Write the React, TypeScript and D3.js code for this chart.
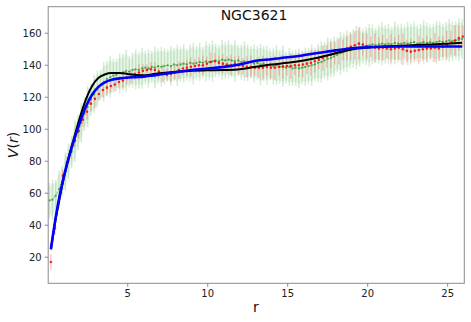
import React from 'react'
import * as d3 from 'd3'

// Courbe de rotation NGC3621 : données observées (rouge), modèle (vert + bande),
// deux ajustements (bleu, noir).

const W = 471
const H = 322

// grille en r des points verts (pas 0.2) et rouges (pas 0.25)
const greenR = d3.range(0.1, 26, 0.2)
const greenV = [
  55.5, 56, 58.5, 62.5, 67.5, 73.5, 80, 86, 92.5, 98,
  104, 109.5, 114, 118.5, 122, 125, 127.5, 129.5, 131.5, 132.5,
  133.5, 134, 135, 135.5, 136.5, 136, 137, 137.5, 137, 138,
  138.5, 138, 139, 138.5, 139.5, 139, 139.5, 140, 139.5, 140.5,
  140, 140.5, 141, 140.5, 141.5, 141, 141.5, 142, 141.5, 142.5,
  142, 142.5, 143, 142.5, 143.5, 143, 143.5, 143, 142.5, 143,
  142, 142.5, 141.5, 142, 141, 141.5, 140.5, 141, 140, 140.5,
  139.5, 140, 139, 139.5, 138.5, 139, 138, 138.5, 138, 138.5,
  139, 139.5, 140, 140.5, 141.5, 142, 143, 144, 144.5, 145.5,
  146.5, 147.5, 148, 149, 149.5, 150.5, 151, 151.5, 152, 152,
  152.5, 153, 152.5, 153, 153.5, 153, 153.5, 153, 154, 153.5,
  153.5, 154, 153.5, 154, 154.5, 153.5, 154, 154.5, 154, 154.5,
  154, 154.5, 155, 154.5, 155, 155.5, 155, 155.5, 156, 156.5,
]
const greenErr = [
  11, 12.5, 10, 11.5, 9.5, 12, 11, 10, 13, 11,
  12.5, 10.5, 13, 10, 12, 11.5, 9.5, 12.5, 11, 13,
  10.5, 10, 12.5, 11.5, 13, 10, 11, 12.5, 11.5, 13,
  10.5, 12, 10, 13, 11, 12.5, 11.5, 10, 12.5, 10.5,
  13, 11, 12, 10, 11.5, 13, 10.5, 12, 10, 12.5,
  11.5, 13, 10.5, 10, 12.5, 11.5, 12, 10.5, 13, 10,
  11, 12.5, 11.5, 10, 12, 10.5, 13, 11, 12, 10,
  11.5, 12.5, 10.5, 13, 10, 12, 11, 11.5, 12.5, 10.5,
  12, 11.5, 13, 10.5, 12, 13, 11.5, 13.5, 12, 12.5,
  11, 13.5, 12, 13, 11.5, 12, 13.5, 12.5, 11, 12,
  13.5, 12.5, 11, 12, 13.5, 12, 12.5, 11, 13.5, 12,
  12.5, 11, 13.5, 12, 13, 11.5, 12, 13.5, 12.5, 11,
  12, 13.5, 12.5, 11.5, 12, 13.5, 12.5, 12, 13.5, 12.5,
]

const redR = d3.range(0.2, 26, 0.25)
const redV = [
  17, 38, 55, 71, 79, 86, 93, 99, 106, 111,
  116, 119, 122, 124.5, 126, 127, 128, 129.5, 130.5, 132,
  133, 134.5, 135.5, 136.5, 137, 137.5, 137, 136, 135, 134,
  134.5, 135.5, 137, 138, 138.5, 139, 139.5, 140, 140, 141,
  142, 142.5, 141.5, 141, 140.5, 140, 141, 140, 139.5, 139,
  139, 138.5, 138.5, 138.5, 139, 138.5, 138.5, 139, 139, 139.5,
  139.5, 140, 140, 140.5, 141, 141.5, 142.5, 143.5, 144.5, 145.5,
  146.5, 147.5, 148.5, 149.5, 150.5, 151.5, 152.5, 153.5, 153, 152,
  151.5, 151, 150.5, 151, 150.5, 150, 150.5, 151, 150, 149,
  148.5, 149, 149.5, 150, 150.5, 150.5, 151, 150.5, 151.5, 152.5,
  154, 155.5, 157, 158,
]
const redErr = [
  5, 4, 4, 3.5, 4, 4.5, 4, 5, 4.5, 5,
  5, 5.5, 4, 4.5, 5, 4, 4.5, 3.5, 5, 4,
  4.5, 3.5, 5, 4, 3.5, 4.5, 5, 4, 5.5, 4,
  5, 4.5, 5.5, 4, 5, 6, 4.5, 5, 6, 4.5,
  6, 5, 4.5, 6, 5, 6.5, 4.5, 6, 5, 6.5,
  7, 5, 6.5, 7.5, 5.5, 7, 7.5, 5.5, 7.5, 6,
  8, 6, 7.5, 8, 6.5, 8, 7, 6, 8, 7,
  8.5, 7, 8, 6.5, 7.5, 8.5, 9, 10, 7, 8,
  6.5, 9, 7, 8, 6, 9.5, 7, 8, 10, 7,
  8, 6, 9, 7, 8, 6.5, 9, 7.5, 6.5, 9,
  7.5, 9.5, 8, 7,
]

// ajustement bleu
const blueR = [0.2, 0.5, 0.8, 1.2, 1.6, 2.0, 2.4, 2.8, 3.2, 3.6, 4.0, 4.5, 5.0, 5.5, 6.0, 6.5, 7.0, 8, 9, 10, 11, 11.5, 12.2, 13, 14, 15, 16, 17, 18, 19, 20, 21, 22, 23, 24, 25, 25.9]
const blueV = [25, 45, 61, 78, 92, 104, 114.5, 122, 126.8, 129.5, 131, 131.8, 132.3, 132.6, 132.9, 133.5, 134.2, 135.6, 137, 138, 139, 139.6, 141, 142.8, 143.8, 145, 146.3, 147.8, 149.3, 150.6, 151.3, 151.6, 151.7, 151.7, 151.7, 151.7, 151.7]

// ajustement noir
const blackR = [0.2, 0.5, 0.8, 1.2, 1.6, 2.0, 2.4, 2.8, 3.2, 3.6, 4.0, 4.5, 5.0, 5.5, 6.0, 6.5, 7.0, 8, 9, 10, 11, 12, 13, 14, 15, 16, 17, 18, 19, 20, 21, 22, 23, 24, 25, 25.9]
const blackV = [25, 44, 60, 78, 93, 107, 119, 127.5, 132.3, 134.4, 135.1, 135.2, 134.6, 133.9, 133.8, 134.3, 135, 136, 136.5, 136.8, 137, 137.5, 139, 140.5, 141.5, 143, 145, 147.5, 149.8, 151, 151.8, 152.2, 152.6, 153, 153.5, 154]

const xTicks = [5, 10, 15, 20, 25]
const yTicks = [20, 40, 60, 80, 100, 120, 140, 160]

const FONT = 'DejaVu Sans, sans-serif'

type Pt = { r: number; v: number; e: number }

export default function App() {
  const left = 48.2
  const right = 464.3
  const top = 6.7
  const bottom = 283.3

  const x = d3.scaleLinear().domain([0.03, 26.04]).range([left, right])
  const y = d3.scaleLinear().domain([3.7, 176.6]).range([bottom, top])

  const green: Pt[] = greenR.map((r, i) => ({ r, v: greenV[i], e: greenErr[i] }))
  const red: Pt[] = redR.map((r, i) => ({ r, v: redV[i], e: redErr[i] }))

  const lineG = d3
    .line<Pt>()
    .x((d) => x(d.r))
    .y((d) => y(d.v))
  // voile léger sous les barres vertes pour lier la bande
  const band = d3
    .area<Pt>()
    .x((d) => x(d.r))
    .y0((d) => y(d.v - d.e * 0.8))
    .y1((d) => y(d.v + d.e * 0.8))
    .curve(d3.curveMonotoneX)

  const smooth = d3.line<number>().curve(d3.curveMonotoneX)
  const bluePath = smooth.x((_, i) => x(blueR[i])).y((d) => y(d))(blueV) || ''
  const blackPath = smooth.x((_, i) => x(blackR[i])).y((d) => y(d))(blackV) || ''

  const spine = '#8c8c8c'

  return (
    <svg width={W} height={H} style={{ display: 'block', fontFamily: FONT }}>
      <style>{`body{margin:0}`}</style>
      <defs>
        <clipPath id="plot">
          <rect x={left} y={top} width={right - left} height={bottom - top} />
        </clipPath>
      </defs>
      <rect width={W} height={H} fill="#fff" />

      <g clipPath="url(#plot)">
        <path d={band(green) || ''} fill="#2ca02c" fillOpacity={0.1} />
        {/* bande verte : barres d'erreur du modèle */}
        {green.map((d, i) => (
          <line
            key={'ge' + i}
            x1={x(d.r)}
            x2={x(d.r)}
            y1={y(d.v - d.e)}
            y2={y(d.v + d.e)}
            stroke="#2ca02c"
            strokeOpacity={0.2}
            strokeWidth={1.5}
          />
        ))}
        {/* barres d'erreur rouges */}
        {red.map((d, i) => (
          <line
            key={'re' + i}
            x1={x(d.r)}
            x2={x(d.r)}
            y1={y(d.v - d.e)}
            y2={y(d.v + d.e)}
            stroke="#ff0000"
            strokeOpacity={0.3}
            strokeWidth={1}
          />
        ))}
        <path
          d={lineG(green) || ''}
          fill="none"
          stroke="#2ca02c"
          strokeOpacity={0.6}
          strokeWidth={1}
          strokeDasharray="3,2"
        />
        {green.map((d, i) => (
          <circle key={'gp' + i} cx={x(d.r)} cy={y(d.v)} r={1.1} fill="#2ca02c" fillOpacity={0.8} />
        ))}
        {red.map((d, i) => (
          <circle key={'rp' + i} cx={x(d.r)} cy={y(d.v)} r={1.3} fill="#ff0000" fillOpacity={0.85} />
        ))}
        <path d={blackPath} fill="none" stroke="#000" strokeWidth={2} />
        <path d={bluePath} fill="none" stroke="#0000ff" strokeWidth={2.6} />
      </g>

      {/* cadre */}
      <rect x={left} y={top} width={right - left} height={bottom - top} fill="none" stroke={spine} strokeWidth={1} />

      {/* axe x */}
      {xTicks.map((t) => (
        <g key={'xt' + t} transform={`translate(${x(t)},${bottom})`}>
          <line y1={0} y2={3.5} stroke={spine} />
          <text y={14} textAnchor="middle" fontSize={10} fill="#222">
            {t}
          </text>
        </g>
      ))}
      {/* axe y */}
      {yTicks.map((t) => (
        <g key={'yt' + t} transform={`translate(${left},${y(t)})`}>
          <line x1={0} x2={-3.5} stroke={spine} />
          <text x={-6.5} dy="0.35em" textAnchor="end" fontSize={10} fill="#222">
            {t}
          </text>
        </g>
      ))}

      <text x={254} y={20} textAnchor="middle" fontSize={14} fill="#111">
        NGC3621
      </text>
      <text x={256} y={312} textAnchor="middle" fontSize={14} fill="#111">
        r
      </text>
      <text transform={`translate(18,${(top + bottom) / 2}) rotate(-90)`} textAnchor="middle" fontSize={14} fill="#111">
        <tspan fontStyle="italic">V</tspan>
        <tspan>(</tspan>
        <tspan fontStyle="italic">r</tspan>
        <tspan>)</tspan>
      </text>
    </svg>
  )
}
